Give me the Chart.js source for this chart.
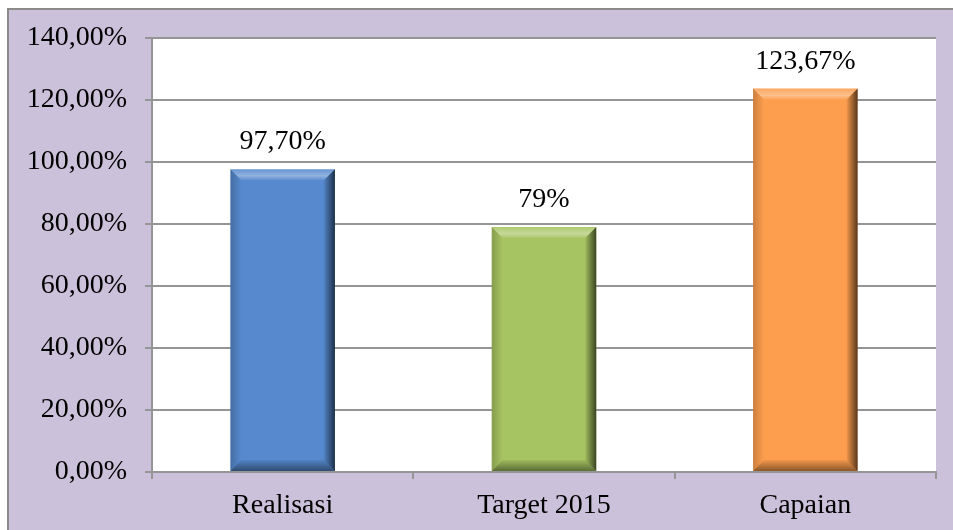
<!DOCTYPE html>
<html>
<head>
<meta charset="utf-8">
<script src="https://cdn.jsdelivr.net/npm/chart.js@4/dist/chart.umd.min.js"></script>
<style>
  html, body { margin: 0; padding: 0; background: #fff; overflow: hidden; }
  body { width: 953px; height: 530px; position: relative; }
  .frame {
    position: absolute; left: 7px; top: 8px; width: 946px; height: 522px;
    background: #ccc1da; border-left: 2px solid #8a8a8a; border-top: 2px solid #8a8a8a;
    box-sizing: border-box;
  }
  #chart { position: absolute; left: 0; top: 0; }
</style>
</head>
<body>
<div class="frame"></div>
<canvas id="chart" width="953" height="530"></canvas>
<script>
// Chart data
const categories = ['Realisasi', 'Target 2015', 'Capaian'];
const values = [97.70, 79, 123.67];
const valueLabels = ['97,70%', '79%', '123,67%'];
const barColors = ['#5689cd', '#a7c462', '#fd9e4f'];

const axisFont = { family: 'Liberation Serif', size: 28 };
const gridGray = '#959595';

// White plot background
const plotBackground = {
    id: 'plotBackground',
    beforeDraw(chart) {
        const { ctx, chartArea: a } = chart;
        ctx.save();
        ctx.fillStyle = '#ffffff';
        ctx.fillRect(a.left, a.top, a.right - a.left, a.bottom - a.top);
        ctx.restore();
    }
};

// Bevel look on top of each bar
const bevel = {
    id: 'bevel',
    afterDatasetsDraw(chart) {
        const ctx = chart.ctx;
        chart.getDatasetMeta(0).data.forEach(bar => {
            const { x, y, base, width } = bar.getProps(['x', 'y', 'base', 'width'], true);
            const l = x - width / 2, r = x + width / 2, t = y, b = base;
            const s = 11;
            ctx.save();

            // top: light band
            let g = ctx.createLinearGradient(0, t, 0, t + s);
            g.addColorStop(0, 'rgba(255,255,255,0.1)');
            g.addColorStop(0.6, 'rgba(255,255,255,0.35)');
            g.addColorStop(1, 'rgba(255,255,255,0.05)');
            ctx.fillStyle = g;
            ctx.beginPath();
            ctx.moveTo(l, t); ctx.lineTo(r, t); ctx.lineTo(r - s, t + s); ctx.lineTo(l + s, t + s);
            ctx.closePath(); ctx.fill();

            // right: dark band
            g = ctx.createLinearGradient(r - s, 0, r, 0);
            g.addColorStop(0, 'rgba(0,0,0,0.05)');
            g.addColorStop(1, 'rgba(0,0,0,0.65)');
            ctx.fillStyle = g;
            ctx.beginPath();
            ctx.moveTo(r, t); ctx.lineTo(r, b); ctx.lineTo(r - s, b - s); ctx.lineTo(r - s, t + s);
            ctx.closePath(); ctx.fill();

            // bottom: dark band
            g = ctx.createLinearGradient(0, b - s, 0, b);
            g.addColorStop(0, 'rgba(0,0,0,0.05)');
            g.addColorStop(1, 'rgba(0,0,0,0.45)');
            ctx.fillStyle = g;
            ctx.beginPath();
            ctx.moveTo(l, b); ctx.lineTo(r, b); ctx.lineTo(r - s, b - s); ctx.lineTo(l + s, b - s);
            ctx.closePath(); ctx.fill();

            // left: slight shade
            g = ctx.createLinearGradient(l, 0, l + s, 0);
            g.addColorStop(0, 'rgba(0,0,0,0.2)');
            g.addColorStop(1, 'rgba(0,0,0,0)');
            ctx.fillStyle = g;
            ctx.beginPath();
            ctx.moveTo(l, t); ctx.lineTo(l + s, t + s); ctx.lineTo(l + s, b - s); ctx.lineTo(l, b);
            ctx.closePath(); ctx.fill();

            ctx.restore();
        });
    }
};

// Value labels above bars
const valueText = {
    id: 'valueText',
    afterDatasetsDraw(chart) {
        const ctx = chart.ctx;
        ctx.save();
        ctx.font = '28px "Liberation Serif"';
        ctx.fillStyle = '#000';
        ctx.textAlign = 'center';
        ctx.textBaseline = 'middle';
        chart.getDatasetMeta(0).data.forEach((bar, i) => {
            ctx.fillText(valueLabels[i], bar.x, bar.y - 27);
        });
        ctx.restore();
    }
};

new Chart(document.getElementById('chart'), {
    type: 'bar',
    data: {
        labels: categories,
        datasets: [{
            data: values,
            backgroundColor: barColors,
            borderWidth: 0,
            barPercentage: 0.4,
            categoryPercentage: 1
        }]
    },
    options: {
        responsive: false,
        animation: false,
        devicePixelRatio: 1,
        layout: { padding: { left: 0, top: 38, right: 17, bottom: 0 } },
        plugins: { legend: { display: false }, tooltip: { enabled: false } },
        scales: {
            x: {
                grid: { offset: true, drawOnChartArea: false, drawTicks: true, tickLength: 7, color: gridGray, lineWidth: 2 },
                border: { color: gridGray, width: 2 },
                ticks: { color: '#000', font: axisFont, padding: 10 },
                afterFit(scale) { scale.height = 58; }
            },
            y: {
                min: 0,
                max: 140,
                grid: { tickLength: 7, color: gridGray, lineWidth: 2 },
                border: { color: gridGray, width: 2 },
                ticks: {
                    stepSize: 20,
                    color: '#000',
                    font: axisFont,
                    padding: 18,
                    callback: v => v.toFixed(2).replace('.', ',') + '%'
                },
                afterFit(scale) { scale.width = 152; }
            }
        }
    },
    plugins: [plotBackground, bevel, valueText]
});
</script>
</body>
</html>
